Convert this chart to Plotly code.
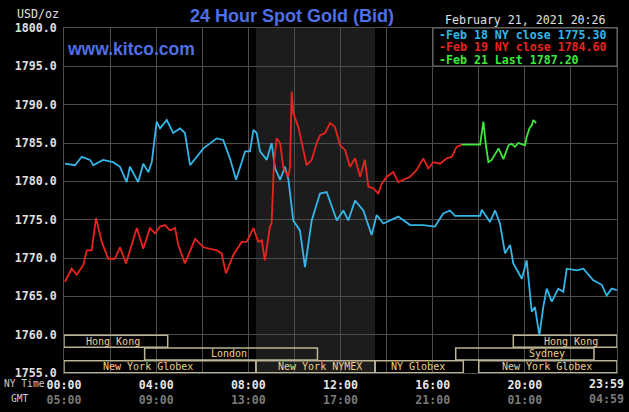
import plotly.graph_objects as go

W, H = 629, 412
L, R, T, B = 64, 12, 28, 39

# ---- data (hours NY time, price USD/oz) ----
blue_h = [0.04, 0.48, 0.77, 1.13, 1.27, 1.69, 2.13, 2.43, 2.72, 2.86, 3.22, 3.44, 3.66, 3.81, 4.02, 4.17,
          4.46, 4.74, 5.03, 5.25, 5.47, 6.05, 6.63, 6.91, 7.20, 7.47, 7.86, 8.07, 8.22, 8.36, 8.51, 8.80,
          9.01, 9.16, 9.38, 9.59, 9.74, 9.95, 10.24, 10.46, 10.75, 11.11, 11.40, 11.84, 12.12, 12.34,
          12.63, 12.99, 13.35, 13.57, 13.86, 14.51, 15.02, 15.59, 16.10, 16.46, 16.75, 16.97, 18.06,
          18.13, 18.49, 18.71, 18.92, 19.14, 19.36, 19.50, 19.87, 20.08, 20.30, 20.44, 20.63, 20.80,
          20.95, 21.17, 21.45, 21.67, 21.82, 22.25, 22.54, 22.97, 23.34, 23.55, 23.77, 23.99]
blue_p = [1782.3, 1782.1, 1783.2, 1782.8, 1782.1, 1782.8, 1782.5, 1781.9, 1779.9, 1781.9, 1779.9, 1782.3,
          1781.2, 1782.5, 1787.8, 1786.9, 1788.0, 1786.3, 1786.9, 1786.3, 1782.1, 1784.3, 1785.6, 1785.4,
          1783.0, 1780.2, 1783.9, 1783.9, 1786.7, 1786.3, 1783.9, 1782.8, 1785.0, 1781.7, 1780.2, 1781.9,
          1780.2, 1774.9, 1773.6, 1768.8, 1774.9, 1778.4, 1778.6, 1774.9, 1776.2, 1774.9, 1777.5, 1776.2,
          1773.0, 1775.6, 1774.5, 1775.4, 1774.3, 1774.3, 1774.1, 1775.8, 1776.2, 1775.5, 1775.5, 1776.3,
          1774.7, 1776.2, 1774.5, 1770.6, 1771.7, 1769.3, 1767.3, 1769.7, 1763.0, 1763.6, 1759.9, 1763.6,
          1766.0, 1764.3, 1766.0, 1765.6, 1768.6, 1768.4, 1768.6, 1767.1, 1766.5, 1765.1, 1766.0, 1765.8]

red_h = [0.04, 0.33, 0.55, 0.84, 0.99, 1.20, 1.39, 1.64, 1.92, 2.21, 2.43, 2.69, 3.16, 3.44, 3.73, 3.95,
         4.17, 4.38, 4.60, 4.82, 4.96, 5.25, 5.69, 6.05, 6.63, 6.84, 7.03, 7.35, 7.71, 7.93, 8.22, 8.43,
         8.58, 8.72, 8.94, 9.01, 9.11, 9.23, 9.38, 9.52, 9.74, 9.81, 9.88, 9.95, 10.17, 10.39, 10.53,
         10.75, 10.97, 11.11, 11.33, 11.55, 11.76, 11.98, 12.20, 12.41, 12.63, 12.85, 13.06, 13.21,
         13.42, 13.64, 13.79, 14.01, 14.29, 14.51, 15.02, 15.31, 15.59, 15.81, 16.03, 16.32, 16.61,
         16.83, 17.04, 17.26]
red_p = [1766.9, 1768.6, 1767.8, 1769.1, 1771.0, 1771.0, 1775.2, 1772.1, 1769.9, 1769.9, 1771.4, 1769.3,
         1773.9, 1771.2, 1773.9, 1773.2, 1774.1, 1774.3, 1773.6, 1773.9, 1771.7, 1769.3, 1772.5, 1771.4,
         1771.0, 1770.6, 1768.0, 1770.4, 1772.1, 1772.1, 1773.9, 1772.1, 1772.3, 1769.7, 1774.1, 1774.5,
         1782.3, 1785.6, 1785.0, 1781.7, 1780.6, 1781.9, 1791.7, 1788.9, 1787.1, 1783.9, 1782.1, 1782.8,
         1785.0, 1786.0, 1786.3, 1787.6, 1787.1, 1784.7, 1784.1, 1781.9, 1783.0, 1780.6, 1782.8, 1779.3,
         1779.1, 1778.4, 1779.7, 1780.6, 1781.2, 1779.9, 1780.6, 1781.5, 1783.0, 1781.7, 1782.5, 1782.3,
         1783.0, 1783.2, 1784.5, 1784.8]

green_h = [17.26, 18.06, 18.13, 18.20, 18.32, 18.42, 18.56, 18.71, 18.86, 19.07, 19.29, 19.43, 19.57,
           19.72, 20.01, 20.08, 20.20, 20.30, 20.37, 20.49]
green_p = [1784.8, 1784.8, 1786.3, 1787.8, 1784.5, 1782.5, 1782.8, 1783.6, 1784.3, 1782.9, 1784.7, 1784.9,
           1784.5, 1785.0, 1784.7, 1785.8, 1786.9, 1787.3, 1788.0, 1787.6]

legend_labels = ["Feb 18 NY close", "Feb 19 NY close", "Feb 21 Last"]
legend_values = [1775.30, 1784.60, 1787.20]

# trading sessions (hours NY time)
sess_names = ["Hong Kong", "London", "New York Globex", "New York NYMEX", "NY Globex",
              "New York Globex", "Sydney", "Hong Kong"]
sess_start = [0.0, 3.5, 0.0, 8.33, 13.5, 18.0, 17.0, 19.5]
sess_end = [4.5, 11.0, 8.33, 13.5, 17.33, 24.0, 23.0, 24.0]
sess_row = [0, 1, 2, 2, 2, 2, 1, 0]
sess_label_h = [2.14, 7.15, 3.64, 11.1, 15.35, 20.95, 20.97, 22.0]

nymex_window = [8.33, 13.5]

ny_ticks = ["00:00", "", "04:00", "", "08:00", "", "12:00", "", "16:00", "", "20:00", ""]
gmt_ticks = ["05:00", "", "09:00", "", "13:00", "", "17:00", "", "21:00", "", "01:00", ""]
last_tick = ("23:59", "04:59")

title_text = "24 Hour Spot Gold (Bid)"
date_text = "February 21, 2021 20:26"

# ---- styling ----
BLUE, RED, GREEN = "#35b6e8", "#e8241f", "#3ee83a"
GRID = "#4d4d4d"
MONO = "DejaVu Sans Mono"
TXT = "#e0e0e0"
SESS_LINE = "#bdb594"
SESS_TXT = "#f0d08c"
TITLE_BLUE = "#4f6fe6"


def px(x):
    return (x - L) / (W - L - R)


def py(y):
    return 1 - (y - T) / (H - T - B)


fig = go.Figure()
for hx, pv, col in [(blue_h, blue_p, BLUE), (red_h, red_p, RED), (green_h, green_p, GREEN)]:
    fig.add_trace(go.Scatter(x=hx, y=pv, mode="lines", line=dict(color=col, width=1.8),
                             hoverinfo="skip", showlegend=False))

shapes = []
shapes.append(dict(type="rect", xref="x", yref="paper", x0=nymex_window[0], x1=nymex_window[1],
                   y0=0, y1=1, fillcolor="#1c1c1c", line=dict(width=0), layer="below"))

row_h = 5 / 3
for nm, s, e, r, lh in zip(sess_names, sess_start, sess_end, sess_row, sess_label_h):
    top = 1760 - r * row_h - 0.07
    bot = 1760 - (r + 1) * row_h + 0.03
    shapes.append(dict(type="rect", xref="x", yref="y", x0=s, x1=e, y0=bot, y1=top,
                       line=dict(color=SESS_LINE, width=1.5), fillcolor="rgba(0,0,0,0)", layer="between"))

# legend box
shapes.append(dict(type="rect", xref="paper", yref="paper", x0=px(433), x1=px(617), y0=py(66), y1=py(28),
                   fillcolor="#000000", line=dict(color="#707070", width=1), layer="above"))

ann = []
for nm, s, e, r, lh in zip(sess_names, sess_start, sess_end, sess_row, sess_label_h):
    yc = 1760 - (r + 0.5) * row_h
    ann.append(dict(x=lh, y=yc, xref="x", yref="y", text=nm, showarrow=False,
                    font=dict(family=MONO, size=10, color=SESS_TXT), xanchor="center", yanchor="middle"))

ann.append(dict(x=px(292), y=py(16), xref="paper", yref="paper", text="<b>%s</b>" % title_text,
                showarrow=False, font=dict(family="Liberation Sans", size=18, color=TITLE_BLUE),
                xanchor="center", yanchor="middle"))
ann.append(dict(x=px(65), y=py(49), xref="paper", yref="paper", text="<b>www.kitco.com</b>",
                showarrow=False, font=dict(family="Liberation Sans", size=17.5, color=TITLE_BLUE),
                xanchor="left", yanchor="middle"))
ann.append(dict(x=px(61), y=py(14), xref="paper", yref="paper", text="USD/oz", showarrow=False,
                font=dict(family=MONO, size=11.6, color=TXT), xanchor="right", yanchor="middle"))
ann.append(dict(x=px(608), y=py(20.5), xref="paper", yref="paper", text=date_text, showarrow=False,
                font=dict(family=MONO, size=11.6, color=TXT), xanchor="right", yanchor="middle"))
for i, (lab, val, col) in enumerate(zip(legend_labels, legend_values, [BLUE, RED, GREEN])):
    ann.append(dict(x=px(437), y=py(34.5 + i * 12.8), xref="paper", yref="paper",
                    text="<b>-%s %.2f</b>" % (lab, val), showarrow=False,
                    font=dict(family=MONO, size=11.6, color=col), xanchor="left", yanchor="middle"))
ann.append(dict(x=px(1.5), y=py(383.5), xref="paper", yref="paper", text="NY Time", showarrow=False,
                font=dict(family=MONO, size=9.6, color="#cccccc"), xanchor="left", yanchor="middle"))
ann.append(dict(x=px(9), y=py(398.5), xref="paper", yref="paper", text="GMT", showarrow=False,
                font=dict(family=MONO, size=9.6, color="#cccccc"), xanchor="left", yanchor="middle"))
ann.append(dict(x=px(606), y=py(383.5), xref="paper", yref="paper", text="<b>%s</b>" % last_tick[0],
                showarrow=False, font=dict(family=MONO, size=11.6, color="#e6e6e6"),
                xanchor="center", yanchor="middle"))
ann.append(dict(x=px(606), y=py(398.5), xref="paper", yref="paper", text="<b>%s</b>" % last_tick[1],
                showarrow=False, font=dict(family=MONO, size=11.6, color="#7a7a7a"),
                xanchor="center", yanchor="middle"))

tickvals = list(range(0, 24, 2))
ticktext = []
for a, b in zip(ny_ticks, gmt_ticks):
    if a:
        ticktext.append("<b>%s</b><br><span style='color:#7a7a7a'><b>%s</b></span>" % (a, b))
    else:
        ticktext.append("")

ytv = list(range(1755, 1801, 5))
fig.update_layout(
    width=W, height=H, margin=dict(l=L, r=R, t=T, b=B, pad=0, autoexpand=False),
    paper_bgcolor="#000000", plot_bgcolor="#000000",
    shapes=shapes, annotations=ann, showlegend=False, hovermode=False,
    xaxis=dict(range=[0, 24], tickvals=tickvals + [24], ticktext=ticktext + [""], showgrid=True,
               gridcolor=GRID, gridwidth=1, zeroline=False, showline=True, linecolor=GRID, mirror=True,
               ticks="", automargin=False, ticklabelstandoff=1,
               tickfont=dict(family=MONO, size=11.6, color="#e6e6e6"), fixedrange=True),
    yaxis=dict(range=[1755, 1800], tickvals=ytv, ticktext=["<b>%.1f</b>" % v for v in ytv], showgrid=True,
               gridcolor=GRID, gridwidth=1, zeroline=False, showline=True, linecolor=GRID, mirror=True,
               ticks="", automargin=False, ticklabelstandoff=4,
               tickfont=dict(family=MONO, size=11.6, color=TXT), fixedrange=True),
)

fig.write_html("out.html", config={"displayModeBar": False},
               post_script="document.body.style.margin='0';document.body.style.background='#000';")
